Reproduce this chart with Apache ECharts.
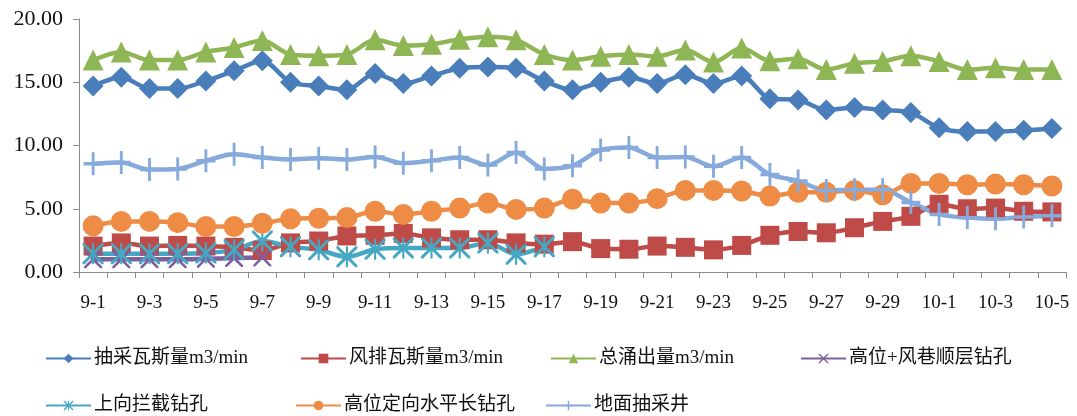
<!DOCTYPE html>
<html>
<head>
<meta charset="utf-8">
<script src="https://cdn.jsdelivr.net/npm/echarts@6/dist/echarts.min.js"></script>
<style>
  html, body { margin: 0; padding: 0; background: #fff; }
  #chart { width: 1077px; height: 416px; }
</style>
</head>
<body>
<div id="chart"></div>
<script>
// 日期
var dates = [
  "9-1", "9-2", "9-3", "9-4", "9-5", "9-6", "9-7", "9-8", "9-9", "9-10",
  "9-11", "9-12", "9-13", "9-14", "9-15", "9-16", "9-17", "9-18", "9-19", "9-20",
  "9-21", "9-22", "9-23", "9-24", "9-25", "9-26", "9-27", "9-28", "9-29", "9-30",
  "10-1", "10-2", "10-3", "10-4", "10-5"
];

// 抽采瓦斯量
var choucai = [14.7, 15.4, 14.5, 14.5, 15.1, 15.9, 16.7, 15.0, 14.7, 14.4,
  15.7, 14.9, 15.5, 16.1, 16.2, 16.1, 15.1, 14.4, 15.0, 15.4,
  14.9, 15.6, 14.9, 15.5, 13.7, 13.6, 12.8, 13.0, 12.8, 12.6,
  11.4, 11.1, 11.1, 11.2, 11.35];
// 风排瓦斯量
var fengpai = [2.05, 2.3, 2.05, 2.1, 2.05, 1.95, 1.7, 2.3, 2.45, 2.85,
  2.9, 3.05, 2.7, 2.55, 2.55, 2.3, 2.2, 2.4, 1.85, 1.8,
  2.05, 1.95, 1.75, 2.1, 2.9, 3.2, 3.1, 3.5, 4.0, 4.4,
  5.35, 5.0, 5.05, 4.8, 4.75];
// 总涌出量
var zongyong = [16.75, 17.4, 16.75, 16.75, 17.4, 17.75, 18.3, 17.2, 17.1, 17.2,
  18.35, 17.9, 18.0, 18.4, 18.6, 18.35, 17.2, 16.75, 17.05, 17.2,
  17.05, 17.55, 16.6, 17.7, 16.7, 16.85, 16.0, 16.5, 16.65, 17.1,
  16.65, 16.0, 16.15, 16.0, 16.0];
// 高位+风巷顺层钻孔
var gaowei = [1.0, 1.0, 1.0, 1.0, 1.05, 1.1, 1.15];
// 上向拦截钻孔
var lanjie = [1.45, 1.45, 1.45, 1.45, 1.5, 1.75, 2.45, 2.0, 1.75, 1.2,
  1.8, 1.9, 1.9, 1.9, 2.3, 1.4, 2.0];
// 高位定向水平长钻孔
var dingxiang = [3.65, 4.0, 4.0, 3.9, 3.6, 3.6, 3.85, 4.2, 4.25, 4.3,
  4.8, 4.55, 4.8, 5.05, 5.45, 4.95, 5.05, 5.75, 5.45, 5.45,
  5.8, 6.45, 6.45, 6.4, 6.0, 6.3, 6.3, 6.45, 6.1, 7.0,
  7.0, 6.9, 6.95, 6.9, 6.8];
// 地面抽采井
var dimian = [8.55, 8.65, 8.1, 8.15, 8.8, 9.3, 9.05, 8.9, 9.0, 8.9,
  9.1, 8.6, 8.8, 9.05, 8.45, 9.45, 8.15, 8.4, 9.65, 9.85,
  9.05, 9.1, 8.35, 9.05, 7.7, 7.2, 6.45, 6.5, 6.5, 5.5,
  4.55, 4.3, 4.2, 4.35, 4.45];

var names = ["抽采瓦斯量m3/min", "风排瓦斯量m3/min", "总涌出量m3/min", "高位+风巷顺层钻孔",
  "上向拦截钻孔", "高位定向水平长钻孔", "地面抽采井"];

var serif = '"Liberation Serif", "Noto Sans CJK SC", serif';

// 标记形状
var plusPath = "path://M-1.5,-10L1.5,-10L1.5,10L-1.5,10Z M-10,-1.5L10,-1.5L10,1.5L-10,1.5Z";
var xPath = "path://M0,0L2,0L10,8L18,0L20,0L20,2L12,10L20,18L20,20L18,20L10,12L2,20L0,20L0,18L8,10L0,2Z";
var starPath = "path://M0,0L2,0L10,8L18,0L20,0L20,2L12,10L20,18L20,20L18,20L10,12L2,20L0,20L0,18L8,10L0,2Z M9,0L11,0L11,20L9,20Z";

function mkSeries(name, data, color, symbol, size) {
  return {
    name: name,
    type: "line",
    data: data,
    smooth: 0.3,
    symbol: symbol,
    symbolSize: size,
    showAllSymbol: true,
    lineStyle: { color: color, width: 4.5 },
    itemStyle: { color: color },
    emphasis: { disabled: true },
    animation: false
  };
}

var legendPos = [[40, 344], [295, 344], [545, 344], [795, 344], [40, 391], [290, 391], [540, 391]];
var legends = names.map(function (n, i) {
  return {
    data: [n],
    left: legendPos[i][0],
    top: legendPos[i][1],
    itemWidth: 45,
    itemHeight: 12,
    itemGap: 0,
    textStyle: { fontFamily: serif, fontSize: 19, color: "#111", padding: [0, 0, 0, -2] },
    selectedMode: false
  };
});

var chart = echarts.init(document.getElementById("chart"));
var option = {
  backgroundColor: "#fff",
  animation: false,
  grid: { left: 79, right: 11, top: 19, bottom: 144, containLabel: false },
  legend: legends,
  xAxis: {
    type: "category",
    data: dates,
    boundaryGap: true,
    axisLine: { lineStyle: { color: "#8c8c8c", width: 1 } },
    axisTick: { show: true, length: 6, inside: false, interval: 0, lineStyle: { color: "#8c8c8c" } },
    axisLabel: { interval: 1, margin: 22, fontFamily: serif, fontSize: 19, color: "#111" },
    splitLine: { show: false }
  },
  yAxis: {
    type: "value",
    min: 0,
    max: 20,
    interval: 5,
    axisLine: { show: true, lineStyle: { color: "#8c8c8c", width: 1 } },
    axisTick: { show: true, length: 6, lineStyle: { color: "#8c8c8c" } },
    axisLabel: {
      margin: 16, fontFamily: serif, fontSize: 22, color: "#111",
      formatter: function (v) { return v.toFixed(2); }
    },
    splitLine: { show: false }
  },
  series: [
    mkSeries(names[0], choucai, "#4a7ebb", "diamond", 21),
    mkSeries(names[1], fengpai, "#be4b48", "rect", 19),
    mkSeries(names[2], zongyong, "#8fb655", "triangle", 21),
    mkSeries(names[3], gaowei, "#7d5fa0", xPath, 18),
    mkSeries(names[4], lanjie, "#46a7c2", starPath, 21),
    mkSeries(names[5], dingxiang, "#ee8c45", "circle", 21),
    mkSeries(names[6], dimian, "#86aadb", plusPath, [19, 23])
  ]
};
chart.setOption(option);
</script>
</body>
</html>
